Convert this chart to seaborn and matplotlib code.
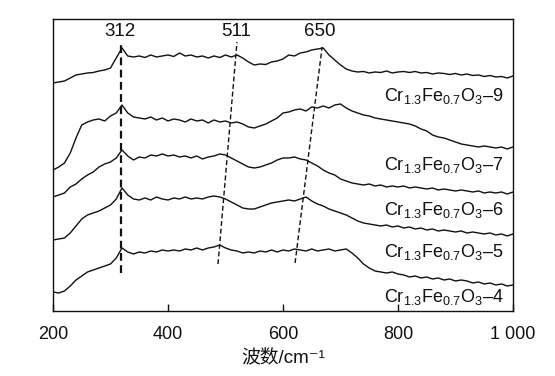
import numpy as np
import pandas as pd
import matplotlib
matplotlib.use("Agg")
import matplotlib.pyplot as plt
import seaborn as sns

# Raman shift grid (cm^-1)
wavenumber = list(range(200, 1001, 10))

# Stacked spectra (arbitrary intensity units, already offset)
s9 = [228, 229, 230, 233, 236, 237, 238, 238.5, 240, 241,
      243, 253, 263, 255, 254, 255, 253.5, 256, 254, 255,
      256, 254.5, 258, 255, 256, 254, 255, 253, 255, 253.5,
      256, 254, 256, 253, 249, 246, 247, 246.5, 249, 250,
      252, 256, 255, 258, 259, 261, 262, 263, 256, 251,
      246, 242, 240, 239, 239.5, 238, 239, 238.5, 240, 238,
      239, 239.5, 238.5, 239.5, 238, 238.5, 237, 238, 237.5, 236.5,
      237.5, 236, 237, 235.5, 236, 234.5, 235.5, 234, 234.5, 233,
      235]
s7 = [141, 144, 148, 158, 173, 186, 189, 191, 192, 190,
      195, 198, 206, 198, 194, 193, 192, 194, 191, 193,
      190, 192, 191, 189, 192, 190, 191, 188, 191, 189,
      190, 188, 189, 187, 184, 183, 185, 187, 190, 193,
      198, 199, 201, 202, 200, 204, 203, 205, 203, 206,
      207, 203, 200, 198, 196, 195, 193, 192, 191, 190,
      189, 188, 187, 185, 182, 180, 176, 174, 173, 171,
      169, 167, 166, 165, 164, 165, 164, 163, 164, 162,
      164]
s6 = [114, 116, 118, 124, 127, 132, 136, 139, 144, 147,
      149, 153, 161, 155, 151, 154, 153, 156, 155, 157,
      155, 156, 154, 155, 153, 155, 152, 154, 155, 157,
      156, 153, 150, 147, 144, 143, 144, 146, 148, 151,
      153, 153, 154, 152, 151, 148, 145, 141, 138, 136,
      132, 130, 128, 127, 126, 127, 125, 126, 124, 125,
      124, 125, 123, 124, 123, 122, 123, 121, 122, 121,
      120, 121, 120, 119, 120, 118, 119, 118, 119, 117,
      119]
s5 = [71, 72, 73, 78, 85, 92, 96, 98, 100, 103,
      106, 112, 123, 116, 112, 111, 113, 111, 114, 112,
      111, 113, 112, 114, 112, 113, 112, 114, 115, 114,
      112, 109, 106, 103, 102, 102, 104, 106, 108, 109,
      110, 111, 110, 112, 114, 110, 107, 105, 102, 100,
      98, 96, 93, 90, 88, 87, 86, 85, 86, 84,
      85, 83, 84, 82, 83, 81, 82, 80, 81, 80,
      79, 80, 78, 79, 78, 77, 78, 76, 77, 75,
      77]
s4 = [19, 18, 20, 25, 31, 35, 39, 41, 43, 45,
      47, 53, 63, 59, 57, 59, 58, 60, 59, 61,
      60, 61, 60, 62, 61, 63, 61, 63, 64, 66,
      63, 61, 60, 58, 59, 58, 60, 59, 61, 59,
      61, 60, 62, 61, 60, 62, 60, 61, 62, 60,
      61, 62, 58, 53, 47, 43, 40, 39, 38, 39,
      37, 36, 34, 35, 33, 34, 32, 33, 31, 32,
      30, 31, 30, 28, 29, 27, 28, 26, 27, 25,
      26]

sample_names = ["9", "7", "6", "5", "4"]
label_y = [215, 146, 101, 59, 14]

# Peak guide lines: label, (x_top, y_top), (x_bottom, y_bottom)
peak_labels = ["312", "511", "650"]
peak_top_x = [319, 520, 668]
peak_top_y = [266, 269, 264]
peak_bot_x = [319, 487, 621]
peak_bot_y = [38, 47, 48]
peak_label_x = [317, 518, 664]
peak_label_y = 279

x_ticks = [200, 400, 600, 800, 1000]
x_ticklabels = ["200", "400", "600", "800", "1 000"]

sns.set_style("ticks")
plt.rcParams['font.family'] = ['Liberation Sans', 'Noto Sans CJK SC', 'DejaVu Sans']
plt.rcParams['mathtext.fontset'] = 'custom'
plt.rcParams['mathtext.rm'] = 'Liberation Sans'
plt.rcParams['mathtext.it'] = 'Liberation Sans:italic'
plt.rcParams['mathtext.bf'] = 'Liberation Sans:bold'

frames = []
for name, vals in zip(sample_names, [s9, s7, s6, s5, s4]):
    frames.append(pd.DataFrame({"wn": wavenumber, "I": vals, "sample": name}))
df = pd.concat(frames, ignore_index=True)

fig = plt.figure(figsize=(5.55, 3.76), dpi=100)
ax = fig.add_axes([0.0955, 0.1729, 0.8288, 0.7766])

sns.lineplot(data=df, x="wn", y="I", hue="sample", hue_order=sample_names,
             palette=["#111111"] * 5, linewidth=1.0, legend=False, ax=ax,
             errorbar=None)

# dashed guide lines
for i in range(3):
    lw = 1.6 if i == 0 else 1.0
    ax.plot([peak_bot_x[i], peak_top_x[i]], [peak_bot_y[i], peak_top_y[i]],
            color="#111111", lw=lw, ls=(0, (3.5, 2)))
    ax.text(peak_label_x[i], peak_label_y, peak_labels[i], ha="center",
            va="center", fontsize=13.5, color="#111111")

for name, ly in zip(sample_names, label_y):
    ax.text(983, ly, r"Cr$_{1.3}$Fe$_{0.7}$O$_{3}$–" + name, ha="right",
            va="center", fontsize=13, color="#111111")

ax.set_xlim(200, 1000)
ax.set_ylim(0, 292)
ax.set_xticks(x_ticks)
ax.set_xticklabels(x_ticklabels)
ax.set_yticks([])
ax.tick_params(axis="x", direction="in", length=5, width=1, pad=11,
               labelsize=13, colors="#111111")
for sp in ax.spines.values():
    sp.set_visible(True)
    sp.set_linewidth(1.0)
    sp.set_color("#111111")
ax.set_ylabel("")
ax.set_xlabel("波数/cm\u207b\u00b9", fontsize=13.5, labelpad=4, color="#111111",
              family=['Liberation Sans', 'Noto Sans CJK SC', 'DejaVu Sans'])

fig.savefig("out.png", dpi=100)
